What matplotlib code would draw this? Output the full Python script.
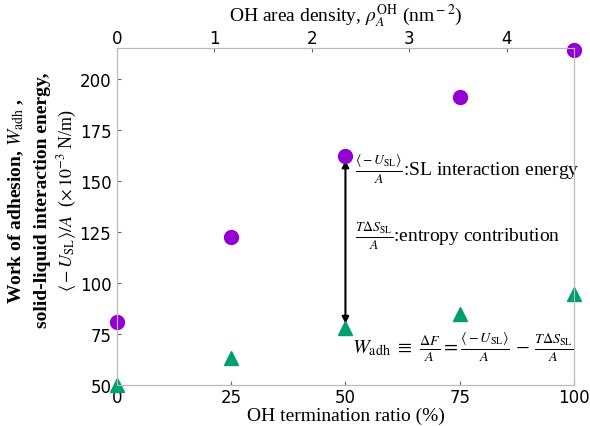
import matplotlib.pyplot as plt
import numpy as np

plt.rcParams['mathtext.fontset'] = 'stix'

# OH termination ratio (%)
ratio = [0, 25, 50, 75, 100]
# interaction energy <-U_SL>/A (x1e-3 N/m)
u_sl = [81, 122.5, 162, 191, 214]
# work of adhesion W_adh (x1e-3 N/m)
w_adh = [50, 63, 78, 85, 94.5]
# OH area density at 100 % termination (nm^-2)
rho_max = 4.69

serif = 'Liberation Serif'

fig = plt.figure(figsize=(5.9, 4.27), dpi=100)
ax = fig.add_axes([0.198, 0.096, 0.775, 0.789])

ax.plot(ratio, u_sl, 'o', color='#9400d3', markersize=10, clip_on=False, zorder=5)
ax.plot(ratio, w_adh, '^', color='#009e73', markersize=10, clip_on=False, zorder=5)

ax.annotate('', xy=(50, u_sl[2]), xytext=(50, w_adh[2]),
            arrowprops=dict(arrowstyle='<|-|>', color='black', lw=1.5,
                            mutation_scale=10, shrinkA=3, shrinkB=3))

ax.text(52, 156, r'$\frac{\langle -U_{\rm SL}\rangle}{A}$:SL interaction energy',
        fontsize=14, family=serif, va='center')
ax.text(52, 123, r'$\frac{T\Delta S_{\rm SL}}{A}$:entropy contribution',
        fontsize=14, family=serif, va='center')
ax.text(51.5, 69, r'$W_{\rm adh}$ $\equiv$ $\frac{\Delta F}{A} = \frac{\langle -U_{\rm SL}\rangle}{A}$ $-$ $\frac{T\Delta S_{\rm SL}}{A}$',
        fontsize=14.5, family=serif, va='center')

ax.set_xlim(0, 100)
ax.set_ylim(50, 215)
ax.set_xticks([0, 25, 50, 75, 100])
ax.set_yticks([50, 75, 100, 125, 150, 175, 200])
ax.tick_params(direction='in', colors='#666666', labelcolor='black', labelsize=12,
               length=3, pad=4)
ax.tick_params(axis='x', pad=2.5)
for s in ax.spines.values():
    s.set_color('#bbbbbb')
ax.set_xlabel('OH termination ratio (%)', fontsize=14, family=serif, labelpad=0)

top = ax.twiny()
top.set_xlim(0, rho_max)
top.set_xticks([0, 1, 2, 3, 4])
top.tick_params(direction='in', colors='#666666', labelcolor='black', labelsize=12,
                length=3, pad=0.5)
for s in top.spines.values():
    s.set_color('#bbbbbb')
top.set_xlabel(r'OH area density, $\rho_A^{\rm OH}$ (nm$^{\rm -2}$)', fontsize=14,
               family=serif, labelpad=6)

fig.text(0.027, 0.53, r'Work of adhesion, $W_{\rm adh}$ ,',
         rotation=90, fontsize=14, family=serif, weight='bold', ha='center', va='center')
fig.text(0.072, 0.53, 'solid-liquid interaction energy,',
         rotation=90, fontsize=14, family=serif, weight='bold', ha='center', va='center')
fig.text(0.115, 0.53, r'$\langle -U_{\rm SL}\rangle/A$  ($\times\,10^{-3}$ N/m)',
         rotation=90, fontsize=13, family=serif, ha='center', va='center')

fig.savefig('out.png')
